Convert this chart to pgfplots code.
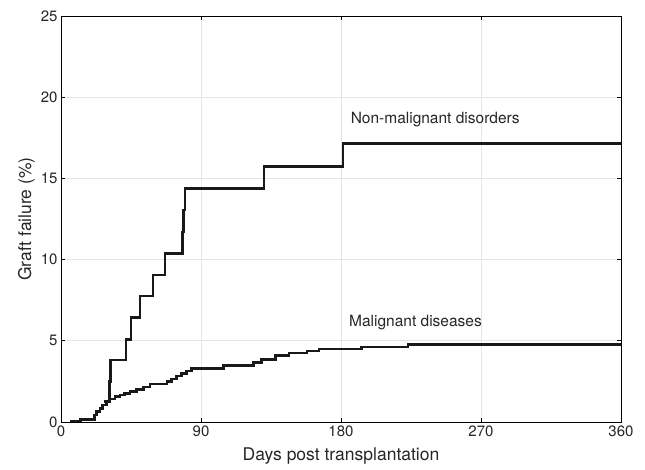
\documentclass[border=0pt]{standalone}
\usepackage{pgfplots}
\pgfplotsset{compat=1.18}
\usepackage{fontspec}
\setmainfont{TeX Gyre Heros}
\begin{document}
\begin{tikzpicture}
\path[use as bounding box] (-61pt,-47pt) rectangle (584pt,422pt);
\begin{axis}[
  scale only axis,
  width=560pt, height=406pt,
  anchor=south west, at={(0pt,0pt)},
  xmin=0, xmax=360, ymin=0, ymax=25,
  xtick={0,90,180,270,360},
  ytick={0,5,10,15,20,25},
  tick align=inside, tick pos=both,
  major tick length=4pt,
  grid=major,
  major grid style={black!10, line width=0.8pt},
  axis line style={black, line width=0.9pt},
  tick style={black, line width=0.8pt},
  /pgf/number format/assume math mode=true,
  tick label style={font=\fontsize{15}{18}\selectfont, text=black!85},
  label style={font=\fontsize{17.5}{21}\selectfont, text=black!85},
  xlabel style={yshift=-4pt},
  ylabel style={yshift=-1pt},
  xlabel={Days post transplantation},
  ylabel={Graft failure (\%)},
  clip=true,
]
\addplot[const plot, black!90, line width=2.5pt] coordinates {
(27.4,1.25) (31.2,2.5) (31.7,3.82) (41.8,5.09) (45,6.45) (50.8,7.76)
(59.1,9.05) (66.8,10.39) (78.2,11.7) (78.8,13.05) (79.7,14.37)
(130.6,15.72) (181.4,17.16) (360,17.16)
};
\addplot[const plot, black!90, line width=2.5pt] coordinates {
(6,0.05) (12.6,0.15) (21.4,0.43) (22.9,0.64) (25.1,0.84) (26.8,1.05)
(29.4,1.25) (31.5,1.42) (34.7,1.56) (37.9,1.66) (40.7,1.77) (44.3,1.87)
(48.6,2.01) (53,2.14) (57.2,2.33) (68,2.48) (71,2.65) (74.4,2.83)
(77.6,3.0) (80.8,3.14) (84,3.28) (104.5,3.48) (123.6,3.65) (129,3.85)
(138,4.08) (146.5,4.25) (158,4.36) (166,4.5) (193.2,4.62) (223.2,4.78)
(360,4.78)
};
\node[anchor=west, font=\fontsize{15.5}{18}\selectfont, text=black!85] at (axis cs:184,18.6) {Non-malignant disorders};
\node[anchor=west, font=\fontsize{15.5}{18}\selectfont, text=black!85] at (axis cs:183,6.1) {Malignant diseases};
\end{axis}
\end{tikzpicture}
\end{document}
